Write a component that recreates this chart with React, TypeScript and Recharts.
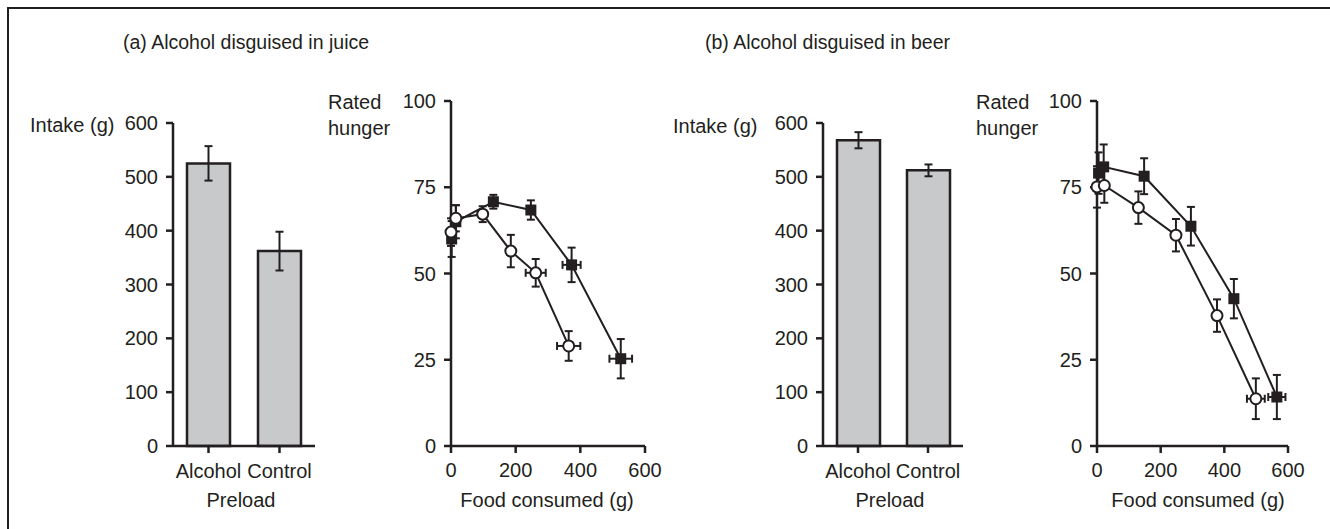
import React from 'react'
import { BarChart, Bar, ErrorBar, XAxis, YAxis, ScatterChart, Scatter } from 'recharts'

const ink = '#231f20'
const barFill = '#c8c9cb'
const font = '"Liberation Sans", Arial, Helvetica, sans-serif'

// bar panels: intake at the test meal
const preloads = ['Alcohol', 'Control']
const juiceIntake = [525, 362]
const juiceIntakeErr = [32, 36]
const beerIntake = [568, 512]
const beerIntakeErr = [15, 11]

const intakeTicks = [0, 100, 200, 300, 400, 500, 600]
const hungerTicks = [0, 25, 50, 75, 100]
const foodTicks = [0, 200, 400, 600]

// (a) juice: rated hunger vs food consumed
const juiceAlcFood = [2, 15, 131, 247, 373, 525]
const juiceAlcFoodErr = [0, 0, 0, 0, 28, 35]
const juiceAlcHunger = [60, 65, 70.8, 68.4, 52.5, 25.3]
const juiceAlcHungerErr = [5.2, 4.8, 2, 2.8, 5, 5.7]
const juiceCtlFood = [0, 15, 98, 185, 262, 364]
const juiceCtlFoodErr = [0, 0, 0, 5, 31, 36]
const juiceCtlHunger = [62, 66, 67.2, 56.5, 50.2, 29]
const juiceCtlHungerErr = [4, 3.8, 2.3, 4.7, 4, 4.3]

// (b) beer
const beerAlcFood = [5, 21, 148, 295, 430, 565]
const beerAlcFoodErr = [0, 0, 0, 0, 0, 27]
const beerAlcHunger = [79.1, 80.9, 78.2, 63.7, 42.7, 14.2]
const beerAlcHungerErr = [6, 6.5, 5.2, 5.6, 5.7, 6.4]
const beerCtlFood = [0, 23, 130, 248, 377, 499]
const beerCtlFoodErr = [0, 0, 0, 0, 0, 28]
const beerCtlHunger = [75.1, 75.5, 69.1, 61.1, 37.8, 13.7]
const beerCtlHungerErr = [6, 5, 4.7, 4.7, 4.7, 5.9]

const tickStyle = { fill: ink, fontSize: 20, fontFamily: font }
const axisStroke = { stroke: ink, strokeWidth: 2.5 }

function points(xs: number[], exs: number[], ys: number[], eys: number[]) {
  return xs.map((x, i) => ({ x, y: ys[i], ex: exs[i] || null, ey: eys[i] }))
}

function Square(props: any) {
  const { cx, cy } = props
  return <rect x={cx - 5.5} y={cy - 5.5} width={11} height={11} fill={ink} />
}

function Circle(props: any) {
  const { cx, cy } = props
  return <circle cx={cx} cy={cy} r={5.5} fill="#fff" stroke={ink} strokeWidth={2} />
}

function IntakePanel({ values, errs, left, right }: { values: number[]; errs: number[]; left: number; right: number }) {
  const data = preloads.map((name, i) => ({ name, value: values[i], err: errs[i] }))
  return (
    <div style={{ position: 'absolute', left, top: 93 }}>
      <BarChart width={230} height={427} data={data} margin={{ top: 30, right, left: 0, bottom: 0 }}>
        <XAxis
          dataKey="name"
          height={74}
          interval={0}
          tick={tickStyle}
          tickSize={7}
          tickMargin={11}
          axisLine={axisStroke}
          tickLine={axisStroke}
        />
        <YAxis
          width={73}
          domain={[0, 600]}
          ticks={intakeTicks}
          interval={0}
          tick={tickStyle}
          tickSize={7}
          tickMargin={8}
          axisLine={axisStroke}
          tickLine={axisStroke}
        />
        <Bar dataKey="value" fill={barFill} stroke={ink} strokeWidth={2.5} barSize={43} isAnimationActive={false}>
          <ErrorBar dataKey="err" direction="y" width={4} stroke={ink} strokeWidth={2} />
        </Bar>
      </BarChart>
    </div>
  )
}

function HungerPanel({ alc, ctl, left, right, yWidth }: { alc: any[]; ctl: any[]; left: number; right: number; yWidth: number }) {
  return (
    <div style={{ position: 'absolute', left, top: 70 }}>
      <ScatterChart width={290} height={450} margin={{ top: 31, right, left: 0, bottom: 0 }}>
        <XAxis
          type="number"
          dataKey="x"
          domain={[0, 600]}
          ticks={foodTicks}
          interval={0}
          height={74}
          tick={tickStyle}
          tickSize={7}
          tickMargin={10}
          axisLine={axisStroke}
          tickLine={axisStroke}
        />
        <YAxis
          type="number"
          dataKey="y"
          domain={[0, 100]}
          ticks={hungerTicks}
          interval={0}
          width={yWidth}
          tick={tickStyle}
          tickSize={7}
          tickMargin={8}
          axisLine={axisStroke}
          tickLine={axisStroke}
        />
        <Scatter data={alc} shape={Square} line={{ stroke: ink, strokeWidth: 2 }} isAnimationActive={false}>
          <ErrorBar dataKey="ey" direction="y" width={4} stroke={ink} strokeWidth={2} />
          <ErrorBar dataKey="ex" direction="x" width={4} stroke={ink} strokeWidth={2} />
        </Scatter>
        <Scatter data={ctl} shape={Circle} line={{ stroke: ink, strokeWidth: 2 }} isAnimationActive={false}>
          <ErrorBar dataKey="ey" direction="y" width={4} stroke={ink} strokeWidth={2} />
          <ErrorBar dataKey="ex" direction="x" width={4} stroke={ink} strokeWidth={2} />
        </Scatter>
      </ScatterChart>
    </div>
  )
}

function Label({ left, top, children, size = 20, center = false }: any) {
  return (
    <div
      style={{
        position: 'absolute',
        left,
        top,
        fontSize: size,
        lineHeight: '26px',
        color: ink,
        fontFamily: font,
        whiteSpace: 'nowrap',
        transform: center ? 'translateX(-50%)' : undefined,
      }}
    >
      {children}
    </div>
  )
}

export default function App() {
  const juiceAlc = points(juiceAlcFood, juiceAlcFoodErr, juiceAlcHunger, juiceAlcHungerErr)
  const juiceCtl = points(juiceCtlFood, juiceCtlFoodErr, juiceCtlHunger, juiceCtlHungerErr)
  const beerAlc = points(beerAlcFood, beerAlcFoodErr, beerAlcHunger, beerAlcHungerErr)
  const beerCtl = points(beerCtlFood, beerCtlFoodErr, beerCtlHunger, beerCtlHungerErr)

  return (
    <div style={{ position: 'absolute', left: 0, top: 0, width: 1330, height: 529, background: '#fff', overflow: 'hidden' }}>
      <div
        style={{
          position: 'absolute',
          left: 7,
          top: 7,
          width: 1330,
          height: 529,
          borderTop: `2px solid ${ink}`,
          borderLeft: `2px solid ${ink}`,
        }}
      />
      <IntakePanel values={juiceIntake} errs={juiceIntakeErr} left={100} right={15} />
      <HungerPanel alc={juiceAlc} ctl={juiceCtl} left={380} right={25} yWidth={71} />
      <IntakePanel values={beerIntake} errs={beerIntakeErr} left={750} right={17} />
      <HungerPanel alc={beerAlc} ctl={beerCtl} left={1025} right={27} yWidth={72} />

      <Label left={123} top={29} size={19.5}>(a) Alcohol disguised in juice</Label>
      <Label left={705} top={29} size={19.5}>(b) Alcohol disguised in beer</Label>

      <Label left={30} top={112}>Intake (g)</Label>
      <Label left={673} top={113}>Intake (g)</Label>

      <Label left={328} top={89}>Rated<br />hunger</Label>
      <Label left={976} top={89}>Rated<br />hunger</Label>

      <Label left={241} top={487} center>Preload</Label>
      <Label left={890} top={487} center>Preload</Label>
      <Label left={547} top={487} center>Food consumed (g)</Label>
      <Label left={1198} top={487} center>Food consumed (g)</Label>
    </div>
  )
}
